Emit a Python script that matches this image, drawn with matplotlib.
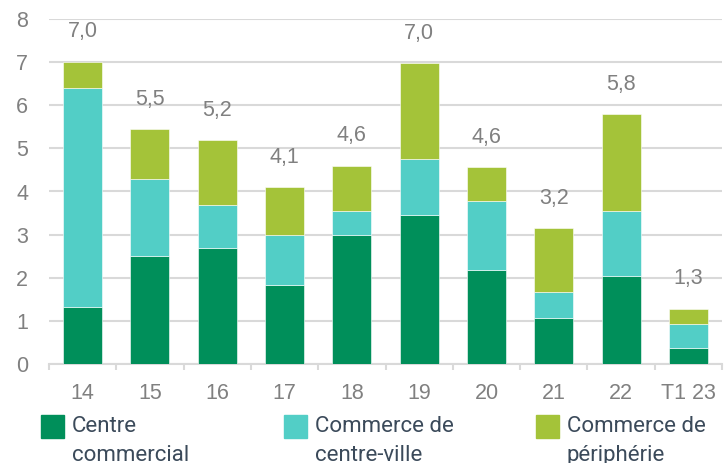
import matplotlib.pyplot as plt
import numpy as np
from matplotlib.patches import Rectangle
from matplotlib.ticker import FixedLocator

years = ["14", "15", "16", "17", "18", "19", "20", "21", "22", "T1 23"]
centre_commercial = [1.33, 2.51, 2.70, 1.84, 2.99, 3.46, 2.17, 1.06, 2.03, 0.36]
centre_ville = [5.08, 1.77, 0.99, 1.15, 0.55, 1.29, 1.60, 0.62, 1.51, 0.57]
peripherie = [0.60, 1.17, 1.50, 1.11, 1.06, 2.22, 0.80, 1.47, 2.25, 0.35]
totals = ["7,0", "5,5", "5,2", "4,1", "4,6", "7,0", "4,6", "3,2", "5,8", "1,3"]

series_names = ["Centre\ncommercial", "Commerce de\ncentre-ville", "Commerce de\npériphérie"]
colors = ["#008f5a", "#52cec6", "#a4c339"]
gray = "#808080"

plt.rcParams['font.family'] = ['Liberation Sans', 'DejaVu Sans']

W, H = 728, 463
fig = plt.figure(figsize=(W / 100, H / 100), dpi=100)
ax = fig.add_axes([49 / W, (H - 364) / H, (722 - 49) / W, (364 - 19) / H])

x = np.arange(len(years))
bottom = np.zeros(len(years))
for vals, col in zip([centre_commercial, centre_ville, peripherie], colors):
    ax.bar(x, vals, 0.58, bottom=bottom, color=col, edgecolor="white", linewidth=0.4, zorder=3)
    bottom += np.array(vals)

for xi, top, lab in zip(x, bottom, totals):
    ax.annotate(lab, (xi, top), xytext=(0, 21.5), textcoords="offset points",
                ha="center", va="center", fontsize=15.5, color=gray)

ax.set_xlim(-0.5, len(years) - 0.5)
ax.set_ylim(0, 8)
ax.set_yticks(range(9))
ax.yaxis.grid(True, color="#d9d9d9", linewidth=1.5, zorder=0)
ax.set_xticks(x)
ax.set_xticklabels(years)
ax.xaxis.set_minor_locator(FixedLocator(np.arange(-0.5, len(years), 1)))
ax.tick_params(axis="x", which="major", length=0, labelsize=15.5, labelcolor=gray, pad=14)
ax.tick_params(axis="x", which="minor", length=4.5, color="#d9d9d9", width=1.5)
ax.tick_params(axis="y", length=0, labelsize=15.5, labelcolor=gray, pad=15)
for s in ["top", "right", "left"]:
    ax.spines[s].set_visible(False)
ax.spines["bottom"].set_color("#d9d9d9")
ax.spines["bottom"].set_linewidth(1.5)

# legend drawn by hand, two lines per entry
leg_x = [41, 284, 536]
for lx, name, col in zip(leg_x, series_names, colors):
    fig.patches.append(Rectangle((lx / W, (H - 438) / H), 23 / W, 23 / H,
                                 transform=fig.transFigure, color=col))
    for line, base in zip(name.split("\n"), [432, 461]):
        fig.text((lx + 31) / W, (H - base) / H, line, ha="left", va="baseline",
                 fontsize=16, family="Roboto", color="#3b4a5a")

plt.savefig("out.png", dpi=100)
